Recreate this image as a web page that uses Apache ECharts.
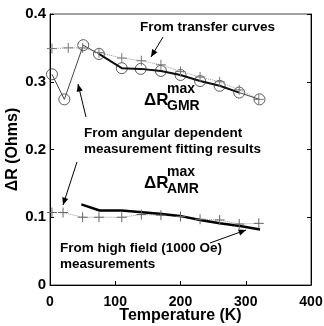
<!DOCTYPE html>
<html><head><meta charset="utf-8">
<script src="https://cdn.jsdelivr.net/npm/echarts@6/dist/echarts.min.js"></script>
<style>html,body{margin:0;padding:0;background:#fff}#c{width:324px;height:326px}</style>
</head><body><div id="c"></div>
<script>
var xTicks = [0, 100, 200, 300, 400];
var yTicks = [0, 0.1, 0.2, 0.3, 0.4];
var gmrAngularT = [3, 22, 51, 75, 110, 139, 170, 200, 230, 260, 290, 321];
var gmrAngularV = [0.311, 0.274, 0.354, 0.341, 0.320, 0.319, 0.316, 0.310, 0.301, 0.294, 0.284, 0.274];
var gmrTransferT = [3, 28, 50, 75, 110, 140, 170, 200, 230, 260, 290, 320];
var gmrTransferV = [0.349, 0.350, 0.350, 0.343, 0.335, 0.331, 0.325, 0.315, 0.307, 0.300, 0.288, 0.274];
var amrAngularT = [48, 76, 110, 168, 199, 230, 260, 291, 322];
var amrAngularV = [0.119, 0.110, 0.110, 0.105, 0.102, 0.096, 0.091, 0.087, 0.082];
var amrHighT = [3, 20, 50, 75, 110, 140, 170, 200, 230, 260, 290, 320];
var amrHighV = [0.107, 0.107, 0.100, 0.100, 0.100, 0.104, 0.103, 0.101, 0.097, 0.096, 0.090, 0.091];

function zip(a, b) { return a.map(function (x, i) { return [x, b[i]]; }); }
var plus = 'path://M0,5L10,5M5,0L5,10';
var F = 'Liberation Sans';

var chart = echarts.init(document.getElementById('c'));
function arrow(x1, y1, x2, y2) {
  var a = Math.atan2(y2 - y1, x2 - x1), L = 8, w = 0.4;
  return [
    {type: 'line', shape: {x1: x1, y1: y1, x2: x2, y2: y2}, style: {stroke: '#000', lineWidth: 1}},
    {type: 'polygon', shape: {points: [[x2, y2],
      [x2 - L * Math.cos(a - w), y2 - L * Math.sin(a - w)],
      [x2 - L * Math.cos(a + w), y2 - L * Math.sin(a + w)]]}, style: {fill: '#000'}}
  ];
}
function label(x, y, txt) {
  return {type: 'text', left: x, top: y, style: {text: txt, font: 'bold 13.5px ' + F, fill: '#000'}};
}
var graphics = [
  label(140, 20, 'From transfer curves'),
  label(84, 126, 'From angular dependent'),
  label(84, 142, 'measurement fitting results'),
  label(60, 241, 'From high field (1000 Oe)'),
  label(60, 257, 'measurements'),
  {type: 'text', left: 167, top: 82, style: {text: 'max', font: 'bold 14px ' + F, fill: '#000'}},
  {type: 'text', left: 144, top: 92, style: {text: 'ΔR', font: 'bold 17px ' + F, fill: '#000'}},
  {type: 'text', left: 167, top: 99, style: {text: 'GMR', font: 'bold 14px ' + F, fill: '#000'}},
  {type: 'text', left: 167, top: 165, style: {text: 'max', font: 'bold 14px ' + F, fill: '#000'}},
  {type: 'text', left: 144, top: 175, style: {text: 'ΔR', font: 'bold 17px ' + F, fill: '#000'}},
  {type: 'text', left: 167, top: 182, style: {text: 'AMR', font: 'bold 14px ' + F, fill: '#000'}}
].concat(arrow(163, 37, 151, 57), arrow(86, 117, 78, 84), arrow(77, 162, 63, 205), arrow(210, 243, 246, 230));

chart.setOption({
  animation: false,
  grid: {left: 50, right: 13, top: 14, bottom: 41, outerBoundsMode: 'none', containLabel: false,
    show: true, borderColor: '#444', borderWidth: 1},
  xAxis: {
    type: 'value', min: 0, max: 400, interval: 100,
    name: 'Temperature (K)', nameLocation: 'middle', nameGap: 23, nameMoveOverlap: false,
    nameTextStyle: {color: '#000', fontWeight: 'bold', fontSize: 16, fontFamily: F},
    axisLine: {lineStyle: {color: '#000'}},
    axisTick: {inside: true, length: 4, lineStyle: {color: '#000'}},
    axisLabel: {color: '#000', fontWeight: 'bold', fontSize: 14, fontFamily: F, margin: 10,
      formatter: function (v) { return xTicks.indexOf(v) >= 0 ? String(v) : ''; }},
    splitLine: {show: false}
  },
  yAxis: [{
    type: 'value', min: 0, max: 0.4, interval: 0.1,
    name: 'ΔR (Ohms)', nameLocation: 'middle', nameGap: 29, nameMoveOverlap: false,
    nameTextStyle: {color: '#000', fontWeight: 'bold', fontSize: 16, fontFamily: F},
    axisLine: {lineStyle: {color: '#000'}},
    axisTick: {inside: true, length: 4, lineStyle: {color: '#000'}},
    axisLabel: {color: '#000', fontWeight: 'bold', fontSize: 15, fontFamily: F, margin: 4,
      formatter: function (v) { var s = +v.toFixed(1); return yTicks.indexOf(s) >= 0 ? String(s) : ''; }},
    splitLine: {show: false}
  }, {
    type: 'value', position: 'right', min: 0, max: 0.4, interval: 0.1,
    axisLine: {show: true, lineStyle: {color: '#000'}},
    axisTick: {inside: true, length: 4, lineStyle: {color: '#000'}},
    axisLabel: {show: false}, splitLine: {show: false}
  }],
  series: [
    {type: 'line', data: zip(gmrTransferT, gmrTransferV), symbol: plus, symbolSize: 10,
      lineStyle: {color: '#999', width: 1, type: 'dotted'},
      itemStyle: {color: 'transparent', borderColor: '#777', borderWidth: 1}},
    {type: 'line', data: zip(gmrAngularT, gmrAngularV), symbol: 'none',
      lineStyle: {color: '#444', width: 1}},
    {type: 'line', data: zip(gmrAngularT.slice(3, 11), gmrAngularV.slice(3, 11)), symbol: 'none',
      lineStyle: {color: '#111', width: 2}},
    {type: 'scatter', data: zip(gmrAngularT, gmrAngularV), symbol: 'circle', symbolSize: 11,
      itemStyle: {color: 'rgba(255,255,255,0)', borderColor: '#333', borderWidth: 1}},
    {type: 'line', data: zip(amrHighT, amrHighV), symbol: plus, symbolSize: 10,
      lineStyle: {color: '#999', width: 1, type: 'dotted'},
      itemStyle: {color: 'transparent', borderColor: '#666', borderWidth: 1}},
    {type: 'line', data: zip(amrAngularT, amrAngularV), symbol: 'none',
      lineStyle: {color: '#000', width: 2.5}}
  ],
  graphic: graphics
});
</script></body></html>
